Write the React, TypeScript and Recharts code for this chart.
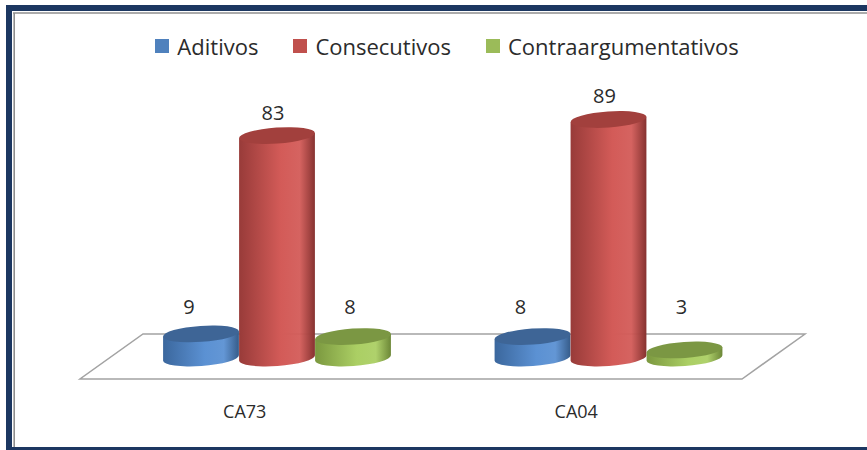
import { BarChart, Bar, XAxis, YAxis, Legend, LabelList } from "recharts";

// data
const categories = ["CA73", "CA04"];
const seriesNames = ["Aditivos", "Consecutivos", "Contraargumentativos"];
const aditivos = [9, 8];
const consecutivos = [83, 89];
const contraargumentativos = [8, 3];

const data = categories.map((name, i) => ({
  name,
  aditivos: aditivos[i],
  consecutivos: consecutivos[i],
  contraargumentativos: contraargumentativos[i],
}));

const W = 867;
const H = 450;
const MARGIN = { top: 90, right: 93, bottom: 62, left: 111 };
const X_AXIS_H = 30;
const BASE_Y = H - MARGIN.bottom - X_AXIS_H; // value 0
const FONT = '"Open Sans", sans-serif';
const TEXT = "#2b2b2b";
const TILT = -4;
const RY = 8;

type Scheme = {
  key: string;
  id: string;
  legend: string;
  left: string;
  mid: string;
  right: string;
  top: string;
  dx: number;
};

const schemes: Scheme[] = [
  { key: "aditivos", id: "gBlue", legend: "#4F81BD", left: "#3b679d", mid: "#5b91d3", right: "#365c8a", top: "#3e6596", dx: -12 },
  { key: "consecutivos", id: "gRed", legend: "#C0504D", left: "#983b39", mid: "#d35b58", right: "#863230", top: "#a2403d", dx: -4 },
  { key: "contraargumentativos", id: "gGreen", legend: "#9BBB59", left: "#7b983f", mid: "#abcf64", right: "#6c8737", top: "#7b9743", dx: -3 },
];

function Cylinder(props: any) {
  const { x, y, width, height, scheme } = props;
  if (width == null || y == null) return null;
  const rx = width / 2;
  const cx = x + rx;
  const topY = y;
  const botY = y + height;
  const a = (TILT * Math.PI) / 180;
  const ox = rx * Math.cos(a);
  const oy = rx * Math.sin(a);
  const body = `M ${cx - ox} ${topY - oy} L ${cx - ox} ${botY - oy} A ${rx} ${RY} ${TILT} 0 0 ${cx + ox} ${botY + oy} L ${cx + ox} ${topY + oy} Z`;
  return (
    <g>
      <path d={body} fill={`url(#${scheme.id})`} />
      <ellipse
        cx={cx}
        cy={topY}
        rx={rx}
        ry={RY}
        fill={scheme.top}
        transform={`rotate(${TILT} ${cx} ${topY})`}
      />
    </g>
  );
}

function ValueLabel(props: any) {
  const { x, y, width, height, value, dx } = props;
  if (x == null) return null;
  const base = y + height;
  const ty = Math.min(y - 16, base - 44);
  return (
    <text x={x + width / 2 + dx} y={ty} textAnchor="middle" fontFamily={FONT} fontSize={20} fill={TEXT}>
      {value}
    </text>
  );
}

function CategoryTick(props: any) {
  const { x, payload } = props;
  return (
    <text x={x - 32} y={BASE_Y + 60} textAnchor="middle" fontFamily={FONT} fontSize={18} fill={TEXT}>
      {payload.value}
    </text>
  );
}

function LegendContent(props: any) {
  const items = props.payload || [];
  return (
    <div
      style={{
        display: "flex",
        justifyContent: "center",
        paddingLeft: 27,
        fontFamily: FONT,
        fontSize: 22,
        lineHeight: "30px",
        color: TEXT,
      }}
    >
      {items.map((entry: any, i: number) => (
        <span
          key={entry.value}
          style={{ display: "flex", alignItems: "center", marginRight: i < items.length - 1 ? 35 : 0 }}
        >
          <span style={{ display: "inline-block", width: 14, height: 14, background: entry.color, marginRight: 8 }} />
          {entry.value}
        </span>
      ))}
    </div>
  );
}

function Backdrop() {
  const backY = BASE_Y - 24;
  const frontY = BASE_Y + 21;
  const plotRight = W - MARGIN.right;
  const floor = [
    [MARGIN.left + 32, backY],
    [plotRight + 31, backY],
    [plotRight - 32, frontY],
    [MARGIN.left - 31, frontY],
  ]
    .map((p) => p.join(","))
    .join(" ");
  return (
    <svg width={W} height={H} style={{ position: "absolute", left: 0, top: 0 }}>
      <rect x={0} y={0} width={W} height={H} fill="#ffffff" />
      <rect x={6} y={5} width={W} height={H} fill="#1c3761" />
      <rect x={12} y={11} width={W} height={436} fill="#ffffff" />
      <line x1={13} y1={13} x2={W} y2={13} stroke="#8f8f8f" strokeWidth={1.6} />
      <line x1={14.2} y1={13} x2={14.2} y2={447} stroke="#8f8f8f" strokeWidth={1.6} />
      <polygon points={floor} fill="#ffffff" stroke="#a3a3a3" strokeWidth={1.5} />
    </svg>
  );
}

export default function App() {
  return (
    <div style={{ position: "absolute", left: 0, top: 0, width: W, height: H, background: "#fff" }}>
      <Backdrop />
      <div style={{ position: "absolute", left: 0, top: 0 }}>
        <BarChart width={W} height={H} data={data} margin={MARGIN} barSize={76} barGap={0}>
          <defs>
            {schemes.map((s) => (
              <linearGradient key={s.id} id={s.id} x1="0" y1="0" x2="1" y2="0">
                <stop offset="0%" stopColor={s.left} />
                <stop offset="55%" stopColor={s.mid} />
                <stop offset="80%" stopColor={s.mid} stopOpacity={0.95} />
                <stop offset="100%" stopColor={s.right} />
              </linearGradient>
            ))}
          </defs>
          <XAxis
            dataKey="name"
            height={X_AXIS_H}
            axisLine={false}
            tickLine={false}
            tick={<CategoryTick />}
            interval={0}
          />
          <YAxis hide domain={[0, 100]} />
          <Legend
            verticalAlign="middle"
            layout="horizontal"
            content={<LegendContent />}
            wrapperStyle={{ top: 31, left: 0, width: W }}
          />
          {schemes.map((s, i) => (
            <Bar
              key={s.key}
              dataKey={s.key}
              name={seriesNames[i]}
              fill={s.legend}
              isAnimationActive={false}
              shape={(p: any) => <Cylinder {...p} scheme={s} />}
            >
              <LabelList dataKey={s.key} content={(p: any) => <ValueLabel {...p} dx={s.dx} />} />
            </Bar>
          ))}
        </BarChart>
      </div>
    </div>
  );
}
